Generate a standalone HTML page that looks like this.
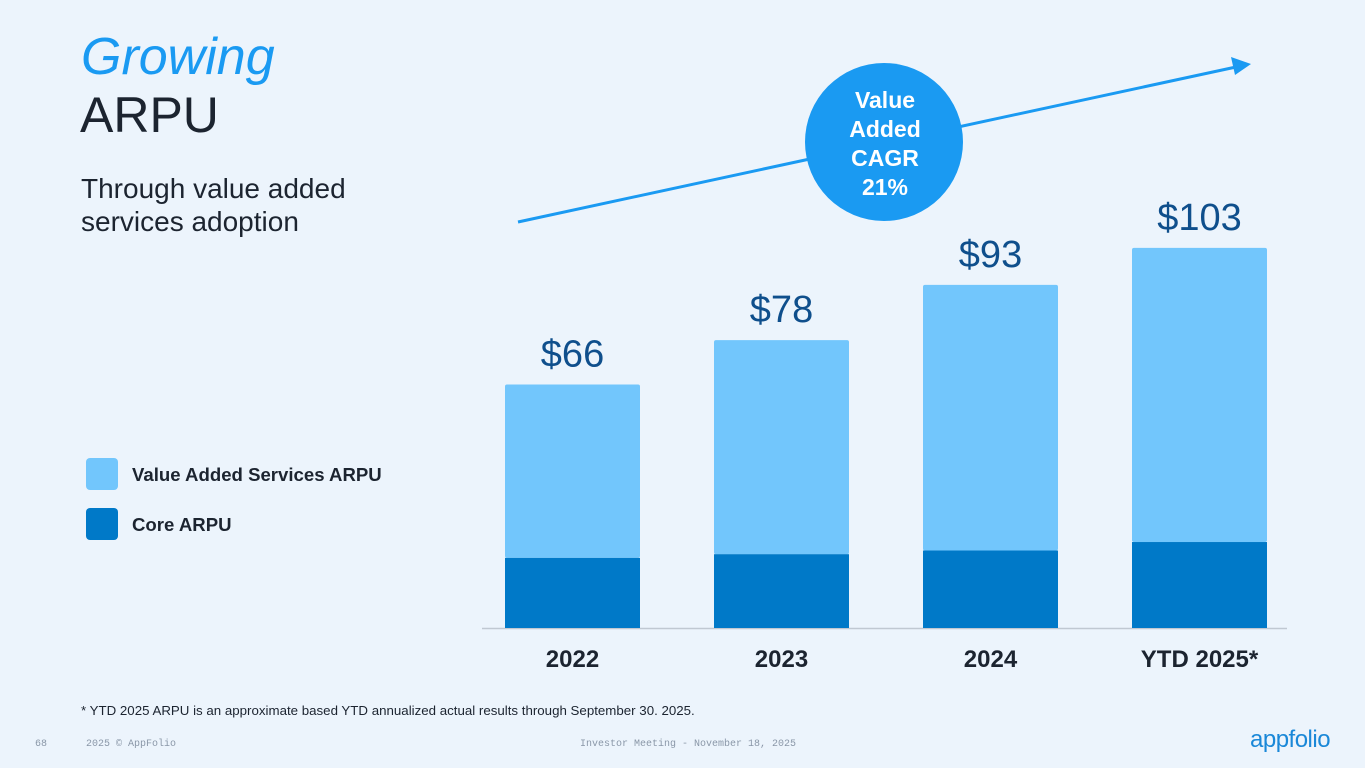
<!DOCTYPE html>
<html><head><meta charset="utf-8">
<style>
body{margin:0;width:1365px;height:768px;background:#ecf4fc;font-family:"Liberation Sans",sans-serif;overflow:hidden;position:relative}
.abs{position:absolute}
</style></head>
<body>
<div class="abs" style="left:81px;top:28px;font-size:52px;font-style:italic;color:#1a9af2;line-height:58px">Growing</div>
<div class="abs" style="left:80px;top:86px;font-size:50px;color:#1c2430;line-height:58px">ARPU</div>
<div class="abs" style="left:81px;top:172px;font-size:28px;color:#1c2430;line-height:33px">Through value added<br>services adoption</div>
<div class="abs" style="left:86px;top:458px;width:32px;height:32px;border-radius:4px;background:#72c6fc"></div>
<div class="abs" style="left:132px;top:464px;font-size:18.6px;font-weight:bold;color:#1c2430">Value Added Services ARPU</div>
<div class="abs" style="left:86px;top:508px;width:32px;height:32px;border-radius:4px;background:#0079c8"></div>
<div class="abs" style="left:132px;top:514px;font-size:18.6px;font-weight:bold;color:#1c2430">Core ARPU</div>
<div class="abs" style="left:81px;top:703px;font-size:13.3px;color:#1c2430">* YTD 2025 ARPU is an approximate based YTD annualized actual results through September 30. 2025.</div>
<div class="abs" style="left:35px;top:739px;font-size:10px;font-family:'Liberation Mono',monospace;color:#8a97a8">68</div>
<div class="abs" style="left:86px;top:739px;font-size:10px;font-family:'Liberation Mono',monospace;color:#8a97a8">2025 © AppFolio</div>
<div class="abs" style="left:580px;top:739px;font-size:10px;font-family:'Liberation Mono',monospace;color:#8a97a8">Investor Meeting - November 18, 2025</div>
<div class="abs" style="left:1250px;top:726px;font-size:24px;color:#1a88d8;letter-spacing:-0.5px">appfolio</div>
<svg id="chart" class="abs" style="left:0;top:0" width="1365" height="768"></svg>
<script>
const categories=["2022","2023","2024","YTD 2025*"];
const totals=[66,78,93,103];
const core=[19,20,21,23.3];
const totalLabels=["$66","$78","$93","$103"];
const NS="http://www.w3.org/2000/svg";
const svg=document.getElementById('chart');
const base=628,pxPer=3.69,x0=505,step=209,bw=135;
const y=v=>base-v*pxPer;
const xb=i=>x0+i*step;
function mk(t,a){const e=document.createElementNS(NS,t);for(const k in a)e.setAttribute(k,a[k]);svg.appendChild(e);return e;}
let ln=mk('line',{x1:518,y1:222,x2:1236,y2:67,stroke:'#1a9af2','stroke-width':3});


let ah=mk('polygon',{points:'1251,64 1231,57 1235,75',fill:'#1a9af2'});


let c=mk('circle',{cx:884,cy:142,r:79,fill:'#1a9af2'});


["Value","Added","CAGR","21%"].forEach((t,i)=>{const e=mk('text',{x:885,y:108+i*29,'text-anchor':'middle','font-size':23,'font-weight':'bold',fill:'#fff'});e.textContent=t;

});
let ax=mk('line',{x1:482,y1:628.5,x2:1287,y2:628.5,stroke:'#c0c8d2','stroke-width':1.5});


categories.forEach((cat,i)=>{
 const x=xb(i);
 const v=mk('rect',{x:x,y:y(totals[i]),width:bw,height:(totals[i]-core[i])*pxPer,fill:'#72c6fc',rx:2});
 
 
 const cr=mk('rect',{x:x,y:y(core[i]),width:bw,height:core[i]*pxPer,fill:'#0079c8'});
 
 
 const tl=mk('text',{x:x+bw/2,y:y(totals[i])-18,'text-anchor':'middle','font-size':38,fill:'#0f4f8c'});
 tl.textContent=totalLabels[i];
 
 
 const xl=mk('text',{x:x+bw/2,y:667,'text-anchor':'middle','font-size':24,'font-weight':'bold',fill:'#1c2430'});
 xl.textContent=cat;
 
 
});
</script>
</body></html>
